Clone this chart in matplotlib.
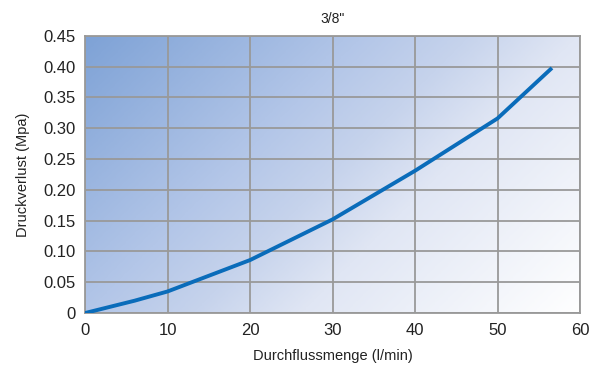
import numpy as np
import matplotlib.pyplot as plt
from matplotlib.colors import LinearSegmentedColormap

# flow (l/min) vs pressure loss (MPa)
flow = [0, 6, 10, 20, 30, 40, 50, 56.6]
loss = [0.0, 0.02, 0.035, 0.086, 0.152, 0.231, 0.316, 0.398]

x_ticks = [0, 10, 20, 30, 40, 50, 60]
y_ticks = [0, 0.05, 0.10, 0.15, 0.20, 0.25, 0.30, 0.35, 0.40, 0.45]
y_labels = ["0", "0.05", "0.10", "0.15", "0.20", "0.25", "0.30", "0.35", "0.40", "0.45"]

plt.rcParams['font.family'] = ['Liberation Sans', 'DejaVu Sans']

fig = plt.figure(figsize=(6, 3.74), dpi=100)
ax = fig.add_axes([0.1417, 0.163, 0.825, 0.741])

# diagonal gradient (in pixel space) from top-left to bottom-right
w_px, h_px = 495, 277
gx, gy = np.meshgrid(np.linspace(0, w_px, 300), np.linspace(0, h_px, 200))
grad = (gx + gy) / (w_px + h_px)
cmap = LinearSegmentedColormap.from_list('bg', [
    (0.0, '#7ea2d6'), (0.36, '#b3c6e8'), (0.5, '#c6d3ec'),
    (0.64, '#e0e6f4'), (1.0, '#ffffff')])
ax.imshow(grad, extent=[0, 60, 0, 0.45], origin='upper', aspect='auto',
          cmap=cmap, zorder=0, interpolation='bilinear')

ax.plot(flow, loss, color='#0a6cba', lw=2.8, solid_capstyle='butt', zorder=3)

ax.set_xlim(0, 60)
ax.set_ylim(0, 0.45)
ax.set_xticks(x_ticks)
ax.set_yticks(y_ticks)
ax.set_yticklabels(y_labels)
ax.tick_params(length=0, labelsize=12, colors='#222222', pad=7)
ax.grid(True, color='#999999', lw=1.3, zorder=1)
ax.set_axisbelow(False)
for s in ax.spines.values():
    s.set_color('#999999')
    s.set_linewidth(1.3)

ax.set_title('3/8"', fontsize=10, color='#222222', pad=9)
ax.set_xlabel('Durchflussmenge (l/min)', fontsize=10.5, color='#222222', labelpad=8)
ax.set_ylabel('Druckverlust (Mpa)', fontsize=10.5, color='#222222', labelpad=9)

fig.savefig('out.png', dpi=100)
